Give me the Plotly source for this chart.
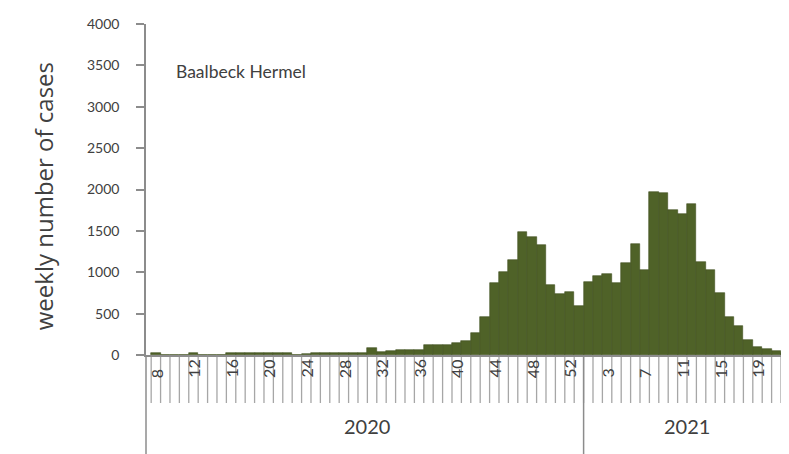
import plotly.graph_objects as go

weeks_2020 = list(range(8, 54))
cases_2020 = [
    28, 5, 3, 4, 28, 5, 3, 5, 20, 22,
    20, 22, 20, 22, 20, 5, 18, 20, 20, 22,
    20, 22, 20, 80, 40, 45, 55, 60, 65, 115,
    120, 125, 140, 165, 262, 464, 867, 1008, 1150, 1485,
    1430, 1325, 845, 740, 760, 595,
]
weeks_2021 = list(range(1, 23))
cases_2021 = [
    885, 960, 980, 865, 1110, 1345, 1025, 1970, 1955, 1755,
    1700, 1820, 1120, 1030, 745, 465, 345, 180, 100, 70,
    45, 30,
]
labeled_2020 = list(range(8, 54, 4))
labeled_2021 = list(range(3, 23, 4))
years = ["2020", "2021"]
y_ticks = list(range(0, 4001, 500))
region = "Baalbeck Hermel"

BAR = "#4f6228"
AXIS = "#8c8c8c"
TEXT = "#404040"
FONT = "Lato"

n20 = len(weeks_2020)
n21 = len(weeks_2021)
x_pos = list(range(n20 + n21))
values = cases_2020 + cases_2021

fig = go.Figure()
fig.add_trace(
    go.Bar(
        x=x_pos,
        y=values,
        marker={"color": BAR, "line": {"color": "#3e4f1f", "width": 0.6}},
        hoverinfo="y",
    )
)

# category separators below the axis (Excel style)
tick_path = " ".join(
    f"M {k - 0.5},0 L {k - 0.5},-0.145" for k in range(len(x_pos) + 1)
)
fig.add_shape(
    type="path", path=tick_path, xref="x", yref="paper",
    line={"color": "#a6a6a6", "width": 1.3}, layer="below",
)
# year separator and axis extension
fig.add_shape(
    type="line", xref="x", yref="paper", x0=n20 - 0.5, x1=n20 - 0.5,
    y0=0, y1=-0.31, line={"color": AXIS, "width": 1.5},
)
fig.add_shape(
    type="line", xref="paper", yref="paper", x0=0, x1=0,
    y0=0, y1=-0.31, line={"color": AXIS, "width": 1.5},
)

tick_font = {"family": FONT, "size": 16, "color": TEXT}
for w in labeled_2020:
    fig.add_annotation(
        x=weeks_2020.index(w), y=-0.075, xref="x", yref="paper",
        text=str(w), textangle=-90, showarrow=False, font=tick_font,
    )
for w in labeled_2021:
    fig.add_annotation(
        x=n20 + weeks_2021.index(w), y=-0.075, xref="x", yref="paper",
        text=str(w), textangle=-90, showarrow=False, font=tick_font,
    )

year_font = {"family": FONT, "size": 20, "color": TEXT}
fig.add_annotation(
    x=(n20 - 1) / 2, y=-0.258, xref="x", yref="paper", text=years[0],
    showarrow=False, font=year_font,
)
fig.add_annotation(
    x=n20 + (n21 - 1) / 2, y=-0.258, xref="x", yref="paper",
    text=years[1], showarrow=False, font=year_font,
)
fig.add_annotation(
    x=0.043, y=0.855, xref="paper", yref="paper",
    xanchor="left", yanchor="middle",
    text=region, showarrow=False,
    font={"family": FONT, "size": 17.5, "color": TEXT},
)
fig.add_annotation(
    x=-0.16, y=0.48, xref="paper", yref="paper",
    xanchor="center", yanchor="middle", textangle=-90,
    text="weekly number of cases", showarrow=False,
    font={"family": "Open Sans", "size": 24, "color": TEXT},
)

# page body has an 8px margin, so the figure is sized to fit the window
fig.update_layout(
    width=781,
    height=446,
    margin={"l": 138, "r": 0, "t": 16, "b": 99},
    paper_bgcolor="white",
    plot_bgcolor="white",
    bargap=0,
    showlegend=False,
    font={"family": FONT, "color": TEXT},
)
fig.update_xaxes(
    range=[-1.05, 67.35],
    showticklabels=False,
    ticks="",
    showgrid=False,
    zeroline=False,
    showline=True,
    linecolor=AXIS,
    linewidth=1.5,
)
fig.update_yaxes(
    range=[0, 4000],
    tickvals=y_ticks,
    ticks="outside",
    ticklen=8,
    tickcolor=AXIS,
    tickwidth=1.5,
    ticklabelstandoff=14,
    tickfont={"family": FONT, "size": 14, "color": TEXT},
    showgrid=False,
    zeroline=False,
    showline=True,
    linecolor=AXIS,
    linewidth=1.5,
)

fig.write_html("out.html")
